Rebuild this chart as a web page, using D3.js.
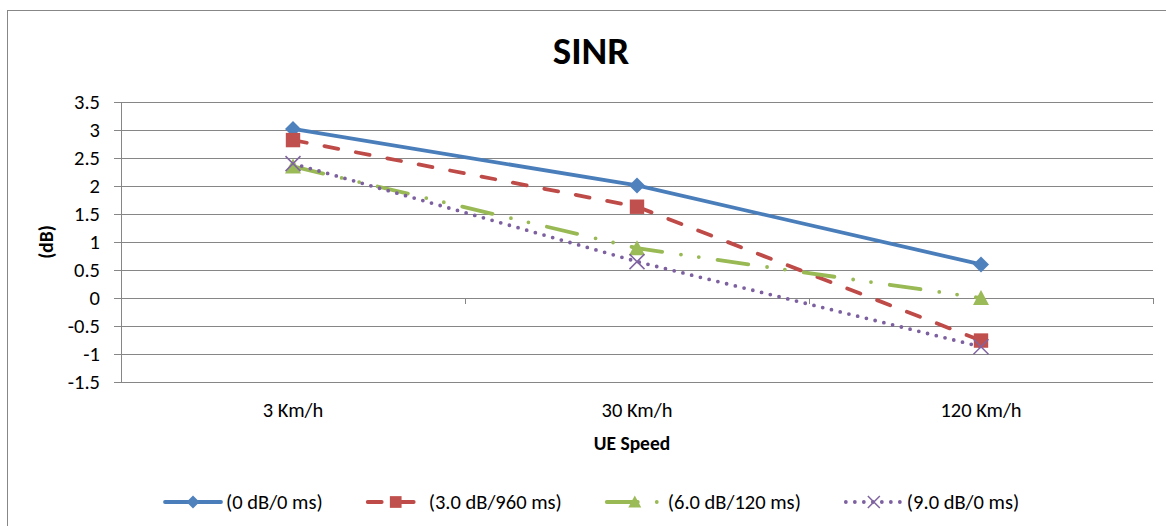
<!DOCTYPE html>
<html>
<head>
<meta charset="utf-8">
<script src="https://cdn.jsdelivr.net/npm/d3@7"></script>
<style>
  body { margin: 0; background: #fff; }
  svg text { font-family: Carlito, Lato, "Noto Sans", sans-serif; fill: #000; }
</style>
</head>
<body>
<svg id="chart" width="1166" height="526"></svg>
<script>
// categories and series
var speeds = ['3 Km/h', '30 Km/h', '120 Km/h'];
var yTicks = [-1.5, -1, -0.5, 0, 0.5, 1, 1.5, 2, 2.5, 3, 3.5];
var seriesNames = ['(0 dB/0 ms)', '(3.0 dB/960 ms)', '(6.0 dB/120 ms)', '(9.0 dB/0 ms)'];
var sinr0 = [3.02, 2.01, 0.60];
var sinr3 = [2.82, 1.63, -0.76];
var sinr6 = [2.35, 0.89, 0.00];
var sinr9 = [2.40, 0.65, -0.87];

var series = [
  {name: seriesNames[0], values: sinr0, color: '#4a7ebb', fill: '#4f81bd', dash: null, marker: 'diamond'},
  {name: seriesNames[1], values: sinr3, color: '#be4b48', fill: '#c0504d', dash: '14 18', marker: 'square'},
  {name: seriesNames[2], values: sinr6, color: '#98b954', fill: '#9bbb59', dash: '31 19 0 18 0 19', marker: 'triangle'},
  {name: seriesNames[3], values: sinr9, color: '#7d60a0', fill: '#8064a2', dash: '0 9', marker: 'x'}
];

var svg = d3.select('#chart');
var margin = {left: 121, right: 13, top: 102, bottom: 144};
var W = 1166, H = 526;

// chart frame
svg.append('rect')
    .attr('x', 7.5).attr('y', 10.5)
    .attr('width', 1200).attr('height', 600)
    .attr('fill', '#fff').attr('stroke', '#878787').attr('stroke-width', 1);

var x = d3.scaleBand()
    .domain(speeds)
    .range([margin.left, W - margin.right]);

var y = d3.scaleLinear()
    .domain([-1.5, 3.5])
    .range([H - margin.bottom, margin.top]);

var grid = '#868686';

// gridlines
svg.append('g')
    .selectAll('line')
    .data(yTicks)
    .enter()
    .append('line')
    .attr('x1', margin.left - 7).attr('x2', W - margin.right)
    .attr('y1', d => Math.round(y(d)) + 0.5).attr('y2', d => Math.round(y(d)) + 0.5)
    .attr('stroke', grid).attr('stroke-width', 1);

// y axis line
svg.append('line')
    .attr('x1', margin.left + 0.5).attr('x2', margin.left + 0.5)
    .attr('y1', y(3.5)).attr('y2', y(-1.5))
    .attr('stroke', grid);

// y tick labels
svg.append('g')
    .selectAll('text')
    .data(yTicks)
    .enter()
    .append('text')
    .attr('x', 100)
    .attr('y', d => y(d))
    .attr('dy', '0.35em')
    .attr('text-anchor', 'end')
    .style('font-size', '20.5px')
    .text(d => d);

// category axis crosses at 0, ticks at band edges
var edges = speeds.map(s => x(s)).concat([x.range()[1]]);
svg.append('g')
    .selectAll('line')
    .data(edges)
    .enter()
    .append('line')
    .attr('x1', d => Math.round(d) + 0.5).attr('x2', d => Math.round(d) + 0.5)
    .attr('y1', y(0)).attr('y2', y(0) + 6)
    .attr('stroke', grid);

// category labels at the bottom
svg.append('g')
    .selectAll('text')
    .data(speeds)
    .enter()
    .append('text')
    .attr('x', d => x(d) + x.bandwidth() / 2)
    .attr('y', 417)
    .attr('text-anchor', 'middle')
    .style('font-size', '20.5px')
    .text(d => d);

// titles
svg.append('text')
    .attr('x', 591).attr('y', 64)
    .attr('text-anchor', 'middle')
    .style('font-size', '39px').style('font-weight', 'bold')
    .text('SINR');

svg.append('text')
    .attr('x', (x.range()[0] + x.range()[1]) / 2 - 5).attr('y', 450)
    .attr('text-anchor', 'middle')
    .style('font-size', '19.5px').style('font-weight', 'bold')
    .text('UE Speed');

svg.append('text')
    .attr('transform', `translate(53, ${(y(3.5) + y(-1.5)) / 2}) rotate(-90)`)
    .attr('text-anchor', 'middle')
    .style('font-size', '19.5px').style('font-weight', 'bold')
    .text('(dB)');

function drawMarker(g, type, cx, cy, s, col, fill) {
  if (type === 'diamond') {
    g.append('path')
        .attr('d', `M${cx},${cy - s / 2}L${cx + s / 2},${cy}L${cx},${cy + s / 2}L${cx - s / 2},${cy}Z`)
        .attr('fill', fill);
  } else if (type === 'square') {
    var q = s * 0.9;
    g.append('rect')
        .attr('x', cx - q / 2).attr('y', cy - q / 2)
        .attr('width', q).attr('height', q)
        .attr('fill', fill);
  } else if (type === 'triangle') {
    g.append('path')
        .attr('d', `M${cx},${cy - s / 2}L${cx + s / 2},${cy + s / 2 - 1}L${cx - s / 2},${cy + s / 2 - 1}Z`)
        .attr('fill', fill);
  } else {
    var h = s / 2 - 0.5;
    g.append('path')
        .attr('d', `M${cx - h},${cy - h}L${cx + h},${cy + h}M${cx - h},${cy + h}L${cx + h},${cy - h}`)
        .attr('stroke', fill).attr('stroke-width', 1.5).attr('fill', 'none');
  }
}

var line = d3.line()
    .x((d, i) => x(speeds[i]) + x.bandwidth() / 2)
    .y(d => y(d));

var lines = svg.append('g');
series.forEach(s => {
  lines.append('path')
      .attr('d', line(s.values))
      .attr('fill', 'none')
      .attr('stroke', s.color)
      .attr('stroke-width', 3.8)
      .attr('stroke-linecap', 'round')
      .attr('stroke-linejoin', 'round')
      .attr('stroke-dasharray', s.dash);
});
series.forEach(s => {
  var g = svg.append('g');
  s.values.forEach((v, i) => {
    drawMarker(g, s.marker, x(speeds[i]) + x.bandwidth() / 2, y(v), 16, s.color, s.fill);
  });
});

// legend
var legend = svg.append('g');
var lx = 163, ly = 502;
series.forEach(s => {
  var it = legend.append('g');
  it.append('line')
      .attr('x1', 2).attr('x2', 58)
      .attr('y1', 0).attr('y2', 0)
      .attr('stroke', s.color).attr('stroke-width', 3.8)
      .attr('stroke-linecap', 'round')
      .attr('stroke-dasharray', s.dash);
  drawMarker(it, s.marker, 30, 0, 13, s.color, s.fill);
  var t = it.append('text')
      .attr('x', 63).attr('dy', '0.35em')
      .style('font-size', '20.5px')
      .text(s.name);
  it.attr('transform', `translate(${lx}, ${ly})`);
  lx += 63 + t.node().getComputedTextLength() + 43;
});
</script>
</body>
</html>
